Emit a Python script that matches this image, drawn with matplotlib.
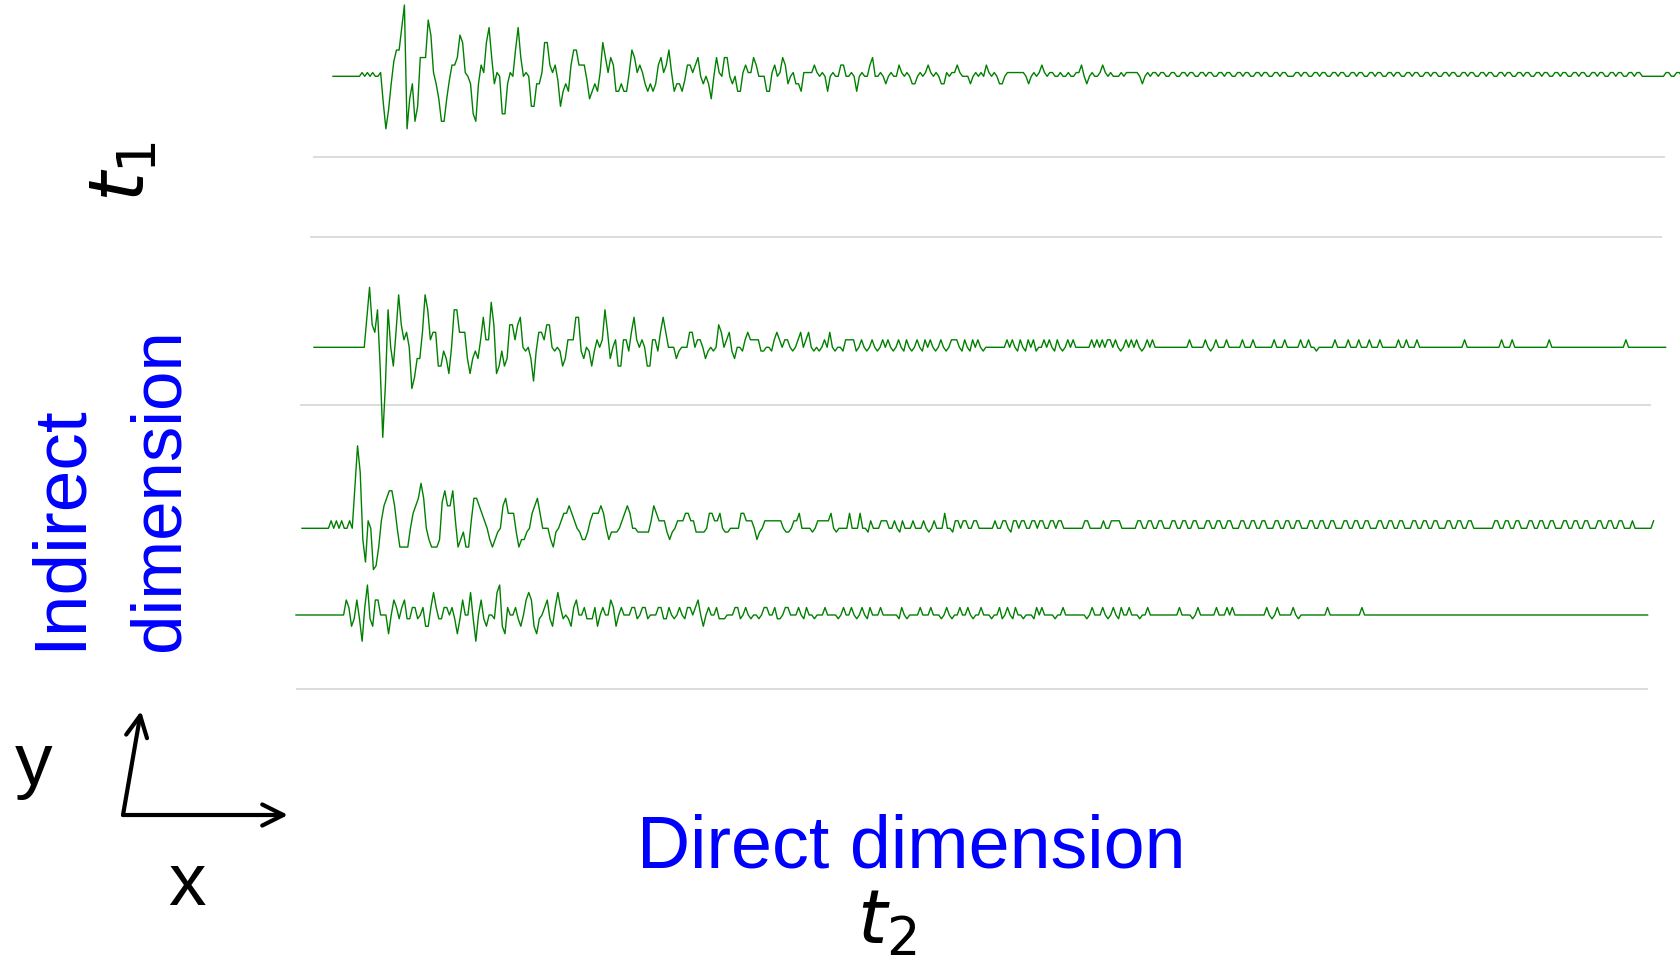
import matplotlib.pyplot as plt
import numpy as np

plt.rcParams["font.family"] = ["Liberation Sans", "DejaVu Sans"]
plt.rcParams["mathtext.fontset"] = "dejavusans"

# FID amplitudes, one value per complex point, in digitiser steps
FID_1 = [
    0, 0, 0, 0, 0, 0, 0, 0, 0, 0, 0,
    1, 0, 1, 0, 1, 0, 0, 1, -7,
    -14, -9, -2, 4, 7, 7, 13, 19, -14, -6,
    -2, -12, -8, 5, 5, 5, 15, 11, 1, -2,
    -6, -12, -12, -6, -1, 3, 3, 5, 11, 9,
    1, 0, -2, -10, -12, -2, 3, 1, 9, 13,
    5, -2, 1, 0, -10, -10, -2, 1, 0, 7,
    13, 5, 0, 1, 0, -8, -8, -2, -2, 1,
    9, 9, 3, 1, 3, -1, -8, -4, -2, -4,
    3, 7, 7, 3, 3, 3, -1, -6, -4, -2,
    -4, 1, 9, 5, 1, 5, 3, -4, -4, -2,
    -4, -4, 1, 7, 5, 1, 3, 1, -2, -4,
    -2, -4, -2, 3, 5, 1, 3, 7, 1, -4,
    -2, -2, -4, -1, 3, 3, 1, 3, 5, 0,
    -2, 0, -2, -6, 0, 5, 1, 0, 5, 5,
    0, -2, 0, -4, -4, 1, 3, 1, 1, 5,
    3, 0, 0, 0, -4, -4, 1, 3, 0, 1,
    5, 3, -2, 0, 1, -2,
    -2, -4, 1, 1, 1, 1, 3, 1, 0, 1,
    0, -4, 0, 1, 0, 0, 3, 3, 0, 0,
    1, 0, -4, 0, 1, 0, 0, 3, 5, 0,
    0, 1, 0, -2, 0, 1, 0, 0, 3, 1,
    0, 1, 0, -2, -2, 0, 1, 0, 1, 3,
    1, 0, 1, 0, -2, -2, 1, 0, 1, 1,
    3, 1, 0, 0, 0, -2, 0, 1, 0, 1,
    0, 3, 1, 0, 1, 0, -2, -2, 0, 1,
    1, 1, 1, 1, 1, 1, 0, -2, 0, 1,
    0, 1, 3, 1, 0, 1, 1, 0, 0, 1,
    0, 0, 1, 0, 0, 1, 1, 3, 0, -2,
    0, 1, 0, 0, 1, 3, 1, 0, 1, 0,
    0, 0, 1, 0, 1, 1, 1, 1, 1, 0,
    -2, 0, 1, 0, 1, 1, 0, 1, 1, 0,
    0, 1, 1, 0,
    0, 1, 1, 0, 1, 1, 0, 0, 1, 1, 0, 1, 1, 0, 0, 1, 1, 0, 1, 1, 0,
    0, 1, 1, 0, 1, 1, 0, 0, 1, 1, 0, 1, 1, 0, 0, 1, 1, 0, 1, 1, 0,
    0, 0, 1, 1, 0, 1, 1, 0, 0, 1, 1, 0, 1, 1, 0, 0, 1, 1, 0, 1, 1,
    0, 0, 1, 1, 0, 1, 1, 0, 0, 1, 1, 0, 1, 1, 0, 0, 1, 1, 0, 1, 1,
    0, 0, 1, 1, 0, 1, 1, 0, 0, 1, 1, 0, 1, 1, 0, 0, 1, 1, 0, 1, 1,
    0, 0, 1, 1, 0, 1, 1, 0, 0, 1, 1, 0, 1, 1, 0, 0, 1, 1, 0, 1, 1,
    0, 0, 1, 1, 0, 1, 1, 0, 0, 1, 1, 0, 1, 1, 0, 0, 1, 1, 0, 1, 1,
    0, 0, 1, 1, 0, 1, 1, 0, 0, 1, 1, 0, 1, 1, 0, 0, 1, 1, 0, 1, 1,
    0, 0, 1, 1, 0, 1, 1,
    0, 0, 0, 0, 0, 0, 0, 0, 0,
    1, 1, 0, 0, 1, 1, 0, 1,
    0, 0, 0, 0, 0,
    1, 0, 0, 1, 1, 0, 1, 1, 0, 0, 1, 1, 0, 1, 1, 0, 0, 1, 1, 0, 1,
    1, 0, 0, 1, 1, 0, 1, 1, 0, 0, 1, 1, 0, 1, 1, 0,
]

FID_2 = [
    0, 0, 0, 0, 0, 0, 0, 0, 0, 0, 0, 0, 0, 0, 0, 0, 0, 0, 0, 0, 8,
    16, 6, 4, 10, -5, -24, -10, 10, 0, -5,
    4, 14, 6, 2, 4, 0, -11, -8, -3, -3,
    4, 14, 10, 2, 4, 4, -5, -5, -1, -3,
    -7, 0, 10, 10, 4, 4, 4, -3, -7, -3,
    -1, -3, 2, 8, 2, 2, 12, 6, -7, -5,
    -1, -5, -3, 6, 6, 2, 6, 8, 0, -1,
    0, -3, -9, -1, 4, 4, 2, 6, 6, 0,
    -1, 0, -1, -5, -3, 2, 2, 2, 8, 8,
    -1, -3, 0, -1, -5, -1, 2, 0, 2, 10,
    4, -3, 0, 2, -5, -5, 2, 2, -1, 4,
    8, 2, 0, 2, 0, -5, -5, 2, 2, -1,
    4, 8, 4, 0, 0, 0, -3, -1, 0, 0,
    0, 4, 4, 0, 2, 2, 0, -3, -1, 0,
    -1, 0, 6, 4, 0, 2, 4, -1, -3, 0,
    0, -1, 2, 4, 2, 2, 2, 2, -1, -1,
    0, 0, -1, 2, 4, 2, 0, 2, 2,
    0, -1, 0, 2, 4, 0, 2, 4, 0, -1, 0, -1, 0, 2, 0, 4, 0, -1, 0, 0,
    -1, 2, 2, 2, 2, -1, 0, 2, 0, -1, 0,
    2, 0, -1, 0, 2, 0, 2, 0, -1, 0, 2, 0, -1, 2, 0, -1, 0, 2, 0, -1,
    2, 0, 2, 0, -1, 0, 2, 0, -1, 0,
    2, 2, 2, 0,
    -1, 2, 0, -1, 2, 0, 2, 0, -1, 0,
    0, 0, 0, 0, 0, 0, 0,
    2, 0, 2, 0, -1, 2, 0, -1, 2, 0, 2, -1, 0, 0, 2, 0, 2, 0, -1, 2,
    0, -1, 0, 2, 0, 2,
    0, 0, 0, 0, 0, 0,
    2, 0, 2, 0, 2, 0, 2, 2, 0, 2, 0, -1, 0, 2, 0, 2, 0, 2, 0, -1,
    0, 2, 0, 2, 0, 0,
    0, 0, 0, 0, 0, 0, 0, 0, 0, 0, 0, 2, 0, 0, 0, 0, 0, 2, 0, -1,
    0, 2, 0, 0, 0, 2, 0, 0, 0, 0, 0, 2, 0, 0, 0, 2, 0, 0, 0, 0,
    0, 0, 0, 2, 0, 0, 0, 2, 0, 0, 0, 0, 0, 2, 0, 0, 2, 0, 0, -1,
    0, 0, 0, 0, 0, 0, 2, 0, 0, 0, 0, 2, 0, 0, 0, 2, 0, 0, 0, 2,
    0, 0, 0, 2, 0, 0, 0, 0, 0, 0, 2, 0, 0, 2, 0, 0, 0, 2, 0, 0,
    0, 0, 0, 0, 0, 0, 0, 0, 0, 0, 0, 0, 0, 0, 0, 2, 0, 0, 0, 0,
    0, 0, 0, 0, 0, 0, 0, 0, 0, 2, 0, 0, 0, 2, 0, 0, 0, 0, 0, 0,
    0, 0, 0, 0, 0, 0, 0, 2, 0, 0, 0, 0, 0, 0, 0, 0, 0, 0, 0, 0,
    0, 0, 0, 0, 0, 0, 0, 0, 0, 0, 0, 0, 0, 0, 0, 0, 2, 0, 0, 0,
    0, 0, 0, 0, 0, 0, 0, 0, 0, 0, 0, 0,
]

FID_3 = [
    0, 0, 0, 0, 0, 0, 0, 0, 0, 0, 0,
    2, 0, 2, 0, 2, 0, 0, 2, 0, 11,
    22, 15, -3, -9, 2, 0, -11, -10, -5, 2,
    6, 8, 10, 10, 6, 0, -5, -5, -5, -5,
    0, 4, 6, 8, 12, 8, 0, -3, -5, -5,
    -5, -3, 7, 10, 6, 6, 10, 2, -5, -3,
    -1, -5, -5, 2, 8, 8, 6, 4, 2, 0,
    -3, -5, -3, -1, 0, 6, 8, 4, 4, 4,
    -1, -5, -3, -3, -1, 0, 4, 6, 8, 4,
    0, 0, 0, -3, -5, -1, 0, 2, 4, 4,
    6, 4, 2, 0, -1, -3, -3, -1, 2, 4,
    4, 4, 6, 4, 0, -3, -1, -1, -1, 0,
    2, 4, 6, 4, 0, 0, -1, -1, -1, -1,
    -1, 2, 6, 4, 2, 2, 2, -1, -3, -1,
    0, 2, 2, 2, 4, 4, 2, 2, -1, -1,
    -1, -1, 0, 4, 4, 2, 2, 4, 0, -1,
    -1, 0, 0, 0, 0, 4, 4, 2, 2, 2,
    0, -3, -1, 0, 2, 2, 2, 2, 2, 2,
    2, 0, -1, -1, 0, 2,
    2, 4, 0, 0, 0, 0, -1, 0, 2, 2,
    2, 2, 2, 4, 0, -1, 0, 0, 0, 0,
    4, 0, 0, 0, 4, 0, 0, -1, 2, 0,
    0, 0, 2, 2, 2, 0, 0, 2, 0, -1,
    2, 0, 0, 0, 2, 0, 0, 0, 2, 0,
    -1, 0, 2, 0, 0, 0, 4, 0, 0,
    -1, 2, 2, 0, 2, 2, 0, 0, 2, 2,
    0, 0, 0, 0, 0, 0,
    2, 0, 0, 2, 2, 0, -1, 2, 2, 0, 2, 2, 0, 0, 2, 2, 0, 2, 2, 0,
    0, 2, 2, 0, 2, 2, 0, 0, 0,
    0, 0, 0, 0, 0,
    2, 2,
    0, 0, 0, 0, 0,
    2, 0, 0, 2, 2, 2, 2, 0,
    0, 0, 0, 0, 0,
    2, 2, 0, 0, 2, 2, 0, 0, 2, 2, 0, 0, 0,
    2, 2, 0, 0, 2, 2, 0, 0, 2, 2, 0, 0, 0,
    2, 2, 0, 0, 2, 2, 0, 0, 2, 2, 0, 0, 0,
    2, 2, 0, 0, 2, 2, 0, 0, 2, 2, 0, 0, 0,
    2, 2, 0, 0, 2, 2, 0, 0, 2, 2, 0, 0, 0,
    2, 2, 0, 0, 2, 2, 0, 0, 2, 2, 0, 0, 0,
    2, 2, 0, 0, 2, 2, 0, 0, 2, 2, 0, 0, 0,
    2, 2, 0, 0, 2, 2, 0, 0, 2, 2, 0, 0, 0,
    2, 2, 0, 0, 2, 2, 0, 0, 2, 2, 0, 0, 0,
    2, 2, 0, 0, 2, 2, 0, 0, 2, 2, 0, 0, 0,
    0, 0, 0, 0, 0,
    2, 2, 0, 0, 2, 2, 0, 0, 2, 2, 0, 0, 0,
    2, 2, 0, 0, 2, 2, 0, 0, 2, 2, 0, 0, 0,
    2, 2, 0, 0, 2, 2, 0, 0, 2, 2, 0, 0, 0,
    2, 2, 0, 0, 2, 2, 0, 0, 2, 2, 0, 0, 0,
    2, 0,
    0, 0, 0, 0, 0, 0,
    2,
]

FID_4 = [
    0, 0, 0, 0, 0, 0, 0, 0, 0, 0, 0, 0, 0, 0, 0, 0, 0, 0, 0,
    4, 2, -3, -1, 4, -1, -7, 2, 8, -1,
    -3, 4, 4, 0, 0, 0, -5, 0, 4, 2,
    -1, 2, 4, -1, -1, 2, 2, -1, 0, 2,
    -3, -3, 2, 6, 2, -1, -1, 2, 2, 0,
    2, -1, -5, -1, 4, 0, 0, 6, -1, -7,
    0, 4, -1, -3, 0, 0, -1, 6, 8, -3,
    -5, 2, 0, 0, 2, -1, -3, 0, 4, 6,
    4, -3, -5, -1, 0, 2, 4, -1, -3, 2,
    6, 2, -1, 0, -1, -3, 2, 4, 0, 0,
    2, -1, -1, -1, 2, -3, 0, 2, 0, 0,
    4, 2, -3, 0, 2, 0, 0, 0, 2, 2,
    -1, 0, 2, 2, -1, 0, 0, 0, 2, 2,
    -1, -1, 2, 0, -1, 0, 2, 0, -1, 2,
    2, 0, 2, 4, 0, -3, 0, 2, 0, 0,
    2, -1, -1, -1, 0, 0, 0, 2, 2, -1,
    0, 2, 0, -1, 0, 0, -1, 0, 2, 2,
    0, 0, 2, -1, -1, 0, 2,
    2, 0, 0, 0, 2, 0, -1, 2, 0, 0, -1, 0, 0, 0, 2, 0, 0, 0, 0, -1,
    0, 2, 0, 0, 2, 0, -1, 0, 2, 0, -1, 2, 0, 0, 0, 2, 0, 0, 0, 0,
    0, 0, -1, 2, 0, -1, 0, 0, 0, 0, 2, 0, 0, 0, 2, 0, 0, 0, -1, 0,
    2, 0, -1, 0, 0, 2, 0, 0, 2, 0, -1, 0, 0, 2, 0, 0, 0, -1, 0, 0,
    2, -1, 0, 2, 0, -1, 2, 0, 0, -1, 0, 0, 0, -1, 2, 0, 2, 0, 0, 0,
    0, -1, 0, 0, 2, 0, 0, 0, 0, 0, 0, 0, 0, -1, 0, 2, 0, 0, 0, 2,
    0, -1, 0, 2, 0, -1, 2, 0, 0, 2, 0, 0, 0, -1, 0, 0, 2, 0, 0, 0,
    0, 0, 0, 0, 0, 0, 0, 0, 2, 0, 0, 0, 0, -1, 0, 2, 0, 0, 0, 0,
    0, 0, 2, 0, 0, 0, 2, 0, 2, 0, 0, 0, 0, 0, 0, 0, 0, 0, 0, 0,
    0, 2, 0, -1, 0, 2, 0, 0, 0, 0, 0, 2, 0, -1, 0, 0, 0, 0, 0, 0,
    0, 0, 0, 0, 2, 0, 0, 0, 0, 0, 0, 0, 0, 0, 0, 0, 0, 2, 0, 0,
    0, 0, 0, 0, 0, 0, 0, 0, 0, 0, 0, 0, 0, 0, 0, 0, 0, 0, 0, 0,
    0, 0, 0, 0, 0, 0, 0, 0, 0, 0, 0, 0, 0, 0, 0, 0, 0, 0, 0, 0,
    0, 0, 0, 0, 0, 0, 0, 0, 0, 0, 0, 0, 0, 0, 0, 0, 0, 0, 0, 0,
    0, 0, 0, 0, 0, 0, 0, 0, 0, 0, 0, 0, 0, 0, 0, 0, 0, 0, 0, 0,
    0, 0, 0, 0, 0, 0, 0, 0, 0, 0, 0, 0, 0, 0, 0, 0, 0, 0, 0, 0,
    0, 0, 0, 0, 0, 0,
]

# canvas in pixels; traces are drawn as a slightly sheared stack
W, H = 1681, 970
DX = 2.645      # px per point along t2
DY = 3.75       # px per digitiser step

# (data, first x, baseline y) for each t1 increment
traces = [
    (FID_1, 333, 77.3),
    (FID_2, 314, 348.3),
    (FID_3, 302, 529.3),
    (FID_4, 296, 616.0),
]
# thin grey frame under each row: (x start, x end, y)
rules = [
    (313, 1665, 158),
    (310, 1662, 238),
    (300, 1651, 406),
    (296, 1648, 690),
]

fig = plt.figure(figsize=(W / 100, H / 100), dpi=100)
ax = fig.add_axes([0, 0, 1, 1])
ax.set_xlim(0, W)
ax.set_ylim(H, 0)
ax.axis("off")

for x0, x1, y in rules:
    ax.plot([x0, x1], [y, y], color="#d2d2d2", lw=1.1, solid_capstyle="butt")

for fid, x0, base in traces:
    amp = np.asarray(fid, dtype=float)
    t = x0 + DX * np.arange(len(amp))
    ax.plot(t, base - DY * amp, color="#008000", lw=1.0)

blue = "#0000ff"
ax.text(80, 650, "Indirect", color=blue, fontsize=54, rotation=90,
        rotation_mode="anchor", ha="left", va="baseline")
ax.text(179, 651, "dimension", color=blue, fontsize=51, rotation=90,
        rotation_mode="anchor", ha="left", va="baseline")
ax.text(144, 202, r"$t_1$", color="black", fontsize=55, rotation=90,
        rotation_mode="anchor", ha="left", va="baseline")

ax.text(911, 868, "Direct dimension", color=blue, fontsize=53,
        ha="center", va="baseline")
ax.text(857, 944, r"$t_2$", color="black", fontsize=54,
        ha="left", va="baseline")

# coordinate axes sketch
corner = (123, 816)
arrow = dict(arrowstyle="->", lw=3, color="black", mutation_scale=38,
             shrinkA=0, shrinkB=0)
ax.annotate("", xy=(141, 712), xytext=corner, arrowprops=arrow)
ax.annotate("", xy=(288, 816), xytext=corner, arrowprops=arrow)
ax.text(34, 785, "y", fontsize=54, ha="center", va="baseline")
ax.text(187, 905, "x", fontsize=54, ha="center", va="baseline")

fig.savefig("out.png", dpi=100, facecolor="white")
